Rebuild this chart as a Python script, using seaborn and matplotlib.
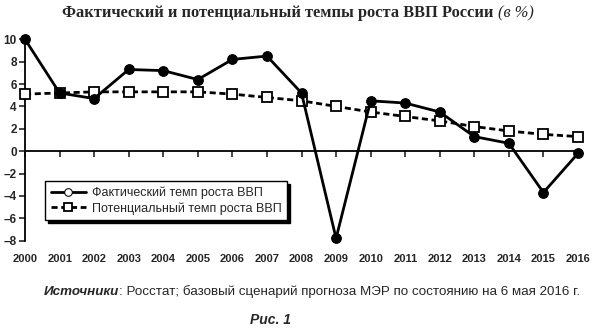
import matplotlib
matplotlib.use("Agg")
import matplotlib.pyplot as plt
import seaborn as sns
import pandas as pd

years = list(range(2000, 2017))
actual = [10.0, 5.2, 4.7, 7.3, 7.2, 6.4, 8.2, 8.5, 5.2, -7.8, 4.5, 4.3, 3.5, 1.3, 0.7, -3.7, -0.2]
potential = [5.1, 5.2, 5.3, 5.3, 5.3, 5.3, 5.1, 4.8, 4.5, 4.0, 3.5, 3.1, 2.7, 2.2, 1.8, 1.5, 1.3]
yticks = [-8, -6, -4, -2, 0, 2, 4, 6, 8, 10]

label_actual = "Фактический темп роста ВВП"
label_potential = "Потенциальный темп роста ВВП"
title_main = "Фактический и потенциальный темпы роста ВВП России "
title_unit = "(в %)"
source_head = "Источники"
source_body = ": Росстат; базовый сценарий прогноза МЭР по состоянию на 6 мая 2016 г."
fig_label = "Рис. 1"

df = pd.DataFrame({"year": years, "actual": actual, "potential": potential})

sns.set_style("white")
plt.rcParams["font.family"] = ["Liberation Sans", "DejaVu Sans"]

fig = plt.figure(figsize=(5.95, 3.28), dpi=100)
ax = fig.add_axes([25 / 595, 1 - 240.6 / 328, 553 / 595, (240.6 - 39.3) / 328])

sns.lineplot(data=df, x="year", y="potential", ax=ax, color="black",
             linewidth=2.0, linestyle=(0, (2.2, 1.3)), marker="s",
             markersize=6.5, markerfacecolor="white", markeredgecolor="black",
             markeredgewidth=1.3, label=label_potential, clip_on=False, zorder=3)
sns.lineplot(data=df, x="year", y="actual", ax=ax, color="black",
             linewidth=2.0, marker="o", markersize=7, markerfacecolor="black",
             markeredgecolor="black", label=label_actual, clip_on=False, zorder=4)

ax.set_xlim(2000, 2016)
ax.set_ylim(-8, 10)
ax.set_xlabel("")
ax.set_ylabel("")

# y axis on the left, x ticks on the zero line
for s in ["top", "right"]:
    ax.spines[s].set_visible(False)
ax.spines["left"].set_linewidth(1.3)
ax.spines["bottom"].set_position(("data", 0))
ax.spines["bottom"].set_linewidth(1.3)
ax.spines["left"].set_color("black")
ax.spines["bottom"].set_color("black")

ax.set_yticks(yticks)
ax.set_yticklabels([str(v) if v >= 0 else "\u2013" + str(-v) for v in yticks],
                   fontsize=8.5, fontweight="bold")
ax.set_xticks(years)
ax.tick_params(axis="y", direction="out", length=4, width=1.2, left=True, pad=2)
ax.tick_params(axis="x", direction="out", length=4, width=1.2, bottom=True,
               labelbottom=False)

for yr in years:
    ax.text(yr, -0.09, str(yr), transform=ax.get_xaxis_transform(),
            ha="center", va="center", fontsize=8, fontweight="bold")

# legend with open markers and a solid drop shadow
h, l = ax.get_legend_handles_labels()
order = [l.index(label_actual), l.index(label_potential)]
leg = ax.legend([h[i] for i in order], [l[i] for i in order],
                loc="upper left", bbox_to_anchor=(20 / 553, (240.6 - 181) / 201.3),
                frameon=True, fancybox=False, edgecolor="black",
                shadow={"color": "black", "alpha": 1},
                fontsize=9, handlelength=2.8, borderpad=0.45, labelspacing=0.25,
                handletextpad=0.5, borderaxespad=0)
leg.get_frame().set_linewidth(1.0)
for line in leg.get_lines():
    line.set_markerfacecolor("white")
    line.set_markersize(5.5)

# title
t1 = fig.text(0.5, 1 - 13 / 328, title_main, ha="center", va="center",
              fontsize=11.8, fontweight="bold", family="Liberation Serif")
fig.canvas.draw()
bb = t1.get_window_extent()
w = bb.width
t2 = fig.text(0, 0, title_unit, fontsize=11.8, style="italic",
              family="Liberation Serif", va="center")
w2 = t2.get_window_extent(fig.canvas.get_renderer()).width
x0 = 62
t1.set_ha("left")
t1.set_position((x0 / 595, 1 - 13 / 328))
t2.set_position(((x0 + w) / 595, 1 - 13 / 328))

# source line
s1 = fig.text(0, 1 - 292 / 328, source_head, fontsize=9.6, style="italic",
              fontweight="bold", va="center")
s2 = fig.text(0, 1 - 292 / 328, source_body, fontsize=9.6, va="center")
fig.canvas.draw()
r = fig.canvas.get_renderer()
ws1 = s1.get_window_extent(r).width
ws2 = s2.get_window_extent(r).width
xs = 312 - (ws1 + ws2) / 2
s1.set_position((xs / 595, 1 - 292 / 328))
s2.set_position(((xs + ws1) / 595, 1 - 292 / 328))

fig.text(270 / 595, 1 - 320 / 328, fig_label, ha="center", va="center",
         fontsize=10, style="italic", fontweight="bold")

fig.savefig("out.png", dpi=100, facecolor="white")
